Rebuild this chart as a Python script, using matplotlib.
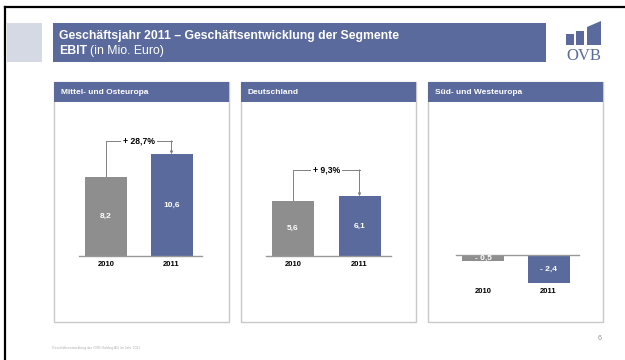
import matplotlib
matplotlib.use("Agg")
import matplotlib.pyplot as plt
from matplotlib.patches import Rectangle, Polygon

plt.rcParams['font.family'] = ['Liberation Sans', 'DejaVu Sans']

# --- data ---
title = "Geschäftsjahr 2011 – Geschäftsentwicklung der Segmente"
subtitle_bold = "EBIT"
subtitle_rest = "(in Mio. Euro)"
segments = ["Mittel- und Osteuropa", "Deutschland", "Süd- und Westeuropa"]
years = ["2010", "2011"]
ebit_mittel_ost = [8.2, 10.6]
ebit_deutschland = [5.6, 6.1]
ebit_sued_west = [-0.5, -2.4]
growth_labels = ["+ 28,7%", "+ 9,3%", None]
page_no = "6"
footer = "Geschäftsentwicklung der OVB Holding AG im Jahr 2011"

# --- layout (pixels, origin top-left) ---
W, H = 625, 360
blue = '#5b6a9c'
gray = '#8e8e8e'
panel_x = [(54, 229), (241, 416), (428, 603)]
panel_top, header_bottom, panel_bottom = 82, 102, 322
baseline_px = [256, 256, 255]
px_per_unit = [9.6, 9.8, 11.7]
bar_centers_px = [(106, 171.5), (293, 359.5), (483, 548.5)]
bar_w_px = 42
bracket_level = [12.0, 8.8, None]


def fmt(v):
    s = f"{abs(v):.1f}".replace(".", ",")
    return "- " + s if v < 0 else s


fig = plt.figure(figsize=(W / 100, H / 100), dpi=100)
bg = fig.add_axes([0, 0, 1, 1])
bg.set_xlim(0, W)
bg.set_ylim(H, 0)
bg.axis('off')

# frame lines
bg.plot([5, W], [7, 7], color='black', lw=1.6)
bg.plot([5, 5], [7, H], color='black', lw=1.6)

# title area
bg.add_patch(Rectangle((7, 23), 35, 39, color='#d5d9e3', lw=0))
bg.add_patch(Rectangle((53, 23), 493, 39, color=blue, lw=0))
bg.text(59, 36, title, color='white', fontsize=8.8, fontweight='bold', va='center')
t = bg.text(59, 51, subtitle_bold, color='white', fontsize=8.8, fontweight='bold', va='center')
fig.canvas.draw()
bb = t.get_window_extent()
bg.text(59 + bb.width + 3, 51, subtitle_rest, color='white', fontsize=8.8, va='center')

# logo
bg.add_patch(Rectangle((566, 34), 8, 11, color=blue, lw=0))
bg.add_patch(Rectangle((576, 31), 8, 14, color=blue, lw=0))
bg.add_patch(Polygon([(587, 45), (587, 27), (601, 21), (601, 45)], color=blue, lw=0))
bg.text(583.5, 56, "OVB", color=blue, fontsize=12, family='Liberation Serif',
        ha='center', va='center')

# footer
bg.text(52, 348, footer, color='#b0b0b0', fontsize=2.5, va='center')
bg.text(600, 338, page_no, color='#909090', fontsize=5, ha='center', va='center')

data = [ebit_mittel_ost, ebit_deutschland, ebit_sued_west]

for i, vals in enumerate(data):
    x0, x1 = panel_x[i]
    # panel frame and header
    bg.add_patch(Rectangle((x0, panel_top), x1 - x0, panel_bottom - panel_top,
                           fill=False, edgecolor='#c8c8c8', lw=1))
    bg.add_patch(Rectangle((x0, panel_top), x1 - x0, header_bottom - panel_top,
                           color=blue, lw=0))
    bg.text(x0 + 7, (panel_top + header_bottom) / 2, segments[i], color='white',
            fontsize=6, fontweight='bold', va='center')

    c0, c1 = bar_centers_px[i]
    ux = c1 - c0
    s = px_per_unit[i]
    base = baseline_px[i]
    ax = fig.add_axes([x0 / W, 1 - panel_bottom / H, (x1 - x0) / W,
                       (panel_bottom - header_bottom) / H])
    ax.set_xlim((x0 - c0) / ux, (x1 - c0) / ux)
    ax.set_ylim(-(panel_bottom - base) / s, (base - header_bottom) / s)
    ax.axis('off')
    ax.patch.set_alpha(0)

    ax.bar([0, 1], vals, width=bar_w_px / ux, color=[gray, blue], zorder=2)
    ax.plot([-0.41, 1.47], [0, 0], color='#999999', lw=1, zorder=3)

    for j, v in enumerate(vals):
        ax.text(j, v / 2, fmt(v), color='white', fontsize=6, fontweight='bold',
                ha='center', va='center', zorder=4)
        ax.text(j, min(0, min(vals)) - 8 / s, years[j], color='black', fontsize=5.5,
                fontweight='bold', ha='center', va='center')

    if growth_labels[i]:
        b = bracket_level[i]
        ax.plot([0, 0, 1], [vals[0], b, b], color='#808080', lw=0.7, zorder=1)
        ax.annotate('', xy=(1, vals[1]), xytext=(1, b),
                    arrowprops=dict(arrowstyle='-|>', color='#808080', lw=0.7,
                                    mutation_scale=4, shrinkA=0, shrinkB=0))
        ax.text(0.5, b, growth_labels[i], fontsize=6.2, fontweight='bold',
                ha='center', va='center',
                bbox=dict(facecolor='white', edgecolor='none', pad=1.5))

fig.savefig("out.png", dpi=100)
